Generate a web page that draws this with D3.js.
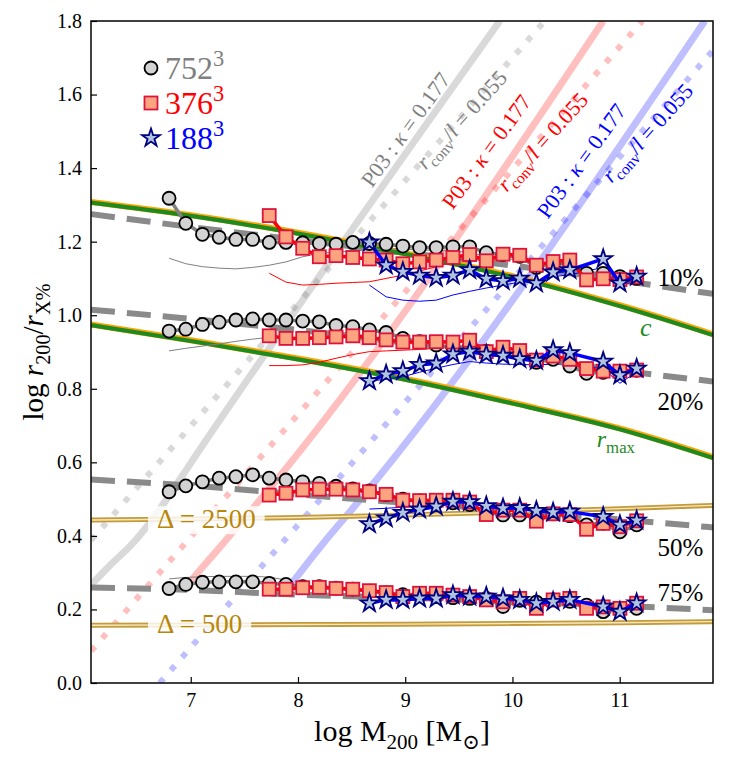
<!DOCTYPE html>
<html>
<head>
<meta charset="utf-8">
<script src="https://cdnjs.cloudflare.com/ajax/libs/d3/7.8.5/d3.min.js"></script>
<style>
  body { margin: 0; background: #fff; }
  svg text { font-family: "Liberation Serif", "DejaVu Serif", serif; }
</style>
</head>
<body>
<div id="chart"></div>
<script>
// log M200 bin centres shared by all three runs
var massBins = [6.798, 6.954, 7.109, 7.265, 7.421, 7.577, 7.732, 7.888, 8.044, 8.199,
                8.355, 8.511, 8.666, 8.822, 8.978, 9.134, 9.289, 9.445, 9.601, 9.756,
                9.912, 10.068, 10.223, 10.379, 10.535, 10.691, 10.846, 11.002, 11.158];

// first bin of each run: 752^3, 376^3, 188^3
var startBin = [0, 6, 12];

// 10% radius
var hi10  = [1.318, 1.250, 1.220, 1.212, 1.206, 1.206, 1.198, 1.198, 1.197, 1.195, 1.193, 1.198, 1.195, 1.193, 1.188,
             1.184, 1.184, 1.186, 1.186, 1.170, 1.165, 1.160, 1.130, 1.140, 1.140, 1.114, 1.114, 1.105, 1.100];
var mid10 = [1.271, 1.213, 1.182, 1.159, 1.162, 1.157, 1.153, 1.150, 1.140, 1.145, 1.150, 1.157, 1.165, 1.148,
             1.166, 1.163, 1.136, 1.146, 1.150, 1.096, 1.099, 1.097, 1.104];
var lo10  = [1.198, 1.136, 1.118, 1.108, 1.102, 1.108, 1.123, 1.099, 1.093, 1.100, 1.087, 1.117, 1.123, null,
             1.153, 1.087, 1.105];
// 20% radius
var hi20  = [0.957, 0.962, 0.975, 0.981, 0.987, 0.990, 0.987, 0.987, 0.984, 0.982, 0.972, 0.969, 0.960, 0.953, 0.937,
             0.928, 0.919, 0.912, 0.915, 0.902, 0.900, 0.895, 0.872, 0.880, 0.862, 0.842, 0.845, 0.843, 0.850];
var mid20 = [0.944, 0.937, 0.937, 0.939, 0.941, 0.944, 0.939, 0.933, 0.927, 0.927, 0.928, 0.927, 0.932, 0.901,
             0.913, 0.904, 0.878, 0.889, 0.880, 0.855, 0.848, 0.848, 0.851];
var lo20  = [0.821, 0.839, 0.848, 0.865, 0.869, 0.894, 0.901, 0.893, 0.890, 0.881, 0.876, 0.905, 0.897, null,
             0.874, 0.837, 0.855];
// 50% radius
var hi50  = [0.520, 0.536, 0.547, 0.557, 0.561, 0.566, 0.557, 0.552, 0.547, 0.543, 0.535, 0.528, 0.522, 0.512, 0.500,
             0.495, 0.490, 0.490, 0.485, 0.465, 0.457, 0.457, 0.450, 0.460, 0.455, 0.430, 0.435, 0.411, 0.430];
var mid50 = [0.511, 0.516, 0.525, 0.527, 0.527, 0.525, 0.520, 0.513, 0.497, 0.496, 0.497, 0.497, 0.492, 0.458,
             0.470, 0.470, 0.440, 0.460, 0.458, 0.418, 0.434, 0.425, 0.441];
var lo50  = [0.432, 0.448, 0.463, 0.472, 0.480, 0.493, 0.492, 0.481, 0.475, 0.476, 0.468, 0.464, 0.466, null,
             0.452, 0.430, 0.442];
// 75% radius
var hi75  = [0.257, 0.268, 0.274, 0.275, 0.275, 0.275, 0.271, 0.268, 0.262, 0.262, 0.258, 0.255, 0.250, 0.245, 0.240,
             0.237, 0.235, 0.232, 0.230, 0.230, 0.208, 0.225, 0.220, 0.226, 0.222, 0.212, 0.194, 0.200, 0.203];
var mid75 = [0.255, 0.255, 0.259, 0.260, 0.257, 0.255, 0.251, 0.246, 0.235, 0.244, 0.244, 0.239, 0.235, 0.226,
             0.221, 0.230, 0.203, 0.226, 0.230, 0.203, 0.207, 0.203, 0.217];
var lo75  = [0.217, 0.226, 0.226, 0.230, 0.230, 0.239, 0.235, 0.235, 0.230, 0.226, 0.217, 0.221, 0.226, null,
             0.208, 0.194, 0.217];

// thin lines (second estimator), same bins
var thinHi10  = [1.155, 1.140, 1.132, 1.128, 1.126, 1.130, 1.136, 1.145, 1.159, 1.168, 1.172, 1.175, 1.178, 1.180, 1.180,
                 1.178, 1.176, 1.175, 1.170, 1.160, 1.155, 1.150, 1.135, 1.130, 1.130, 1.110, 1.110, 1.100, 1.100];
var thinMid10 = [1.114, 1.090, 1.082, 1.084, 1.087, 1.089, 1.091, 1.100, 1.109, 1.120, 1.132, 1.145, 1.160, 1.140,
                 1.160, 1.155, 1.135, 1.140, 1.145, 1.100, 1.100, 1.095, 1.100];
var thinLo10  = [1.082, 1.050, 1.041, 1.038, 1.041, 1.055, 1.065, 1.074, 1.082, 1.090, 1.090, 1.105, 1.110, null,
                 1.130, 1.074, 1.100];
var thinHi20  = [0.903, 0.910, 0.916, 0.922, 0.929, 0.935, 0.940, 0.940, 0.940, 0.940, 0.940, 0.940, 0.935, 0.930, 0.925,
                 0.920, 0.918, 0.915, 0.915, 0.900, 0.900, 0.895, 0.875, 0.880, 0.870, 0.850, 0.845, 0.845, 0.850];
var thinMid20 = [0.863, 0.863, 0.865, 0.872, 0.883, 0.893, 0.901, 0.903, 0.905, 0.907, 0.910, 0.912, 0.915, 0.900,
                 0.900, 0.895, 0.875, 0.880, 0.870, 0.850, 0.845, 0.840, 0.845];
var thinLo20  = [0.821, 0.826, 0.833, 0.845, 0.856, 0.866, 0.874, 0.870, 0.867, 0.866, 0.865, 0.867, 0.869, null,
                 0.855, 0.815, 0.846];
var thinHi50  = [0.535, 0.540, 0.548, 0.555, 0.560, 0.562, 0.560, 0.555, 0.550, 0.545];
var thinLo50  = [0.473, 0.475, 0.478, 0.480, 0.485];
var thinHi75  = [0.283, 0.287, 0.289, 0.290, 0.290, 0.290, 0.288, 0.280];

// model curves on a common mass grid
var modelX   = [6.07, 7, 8, 9, 10, 11, 11.87];
var dash10   = [1.275, 1.240, 1.205, 1.170, 1.135, 1.095, 1.058];
var dash20   = [1.015, 0.990, 0.960, 0.925, 0.890, 0.850, 0.820];
var dash50   = [0.553, 0.537, 0.513, 0.490, 0.470, 0.445, 0.423];
var dash75   = [0.260, 0.253, 0.240, 0.232, 0.222, 0.210, 0.198];
var cLine    = [1.306, 1.270, 1.222, 1.166, 1.104, 1.025, 0.946];
var rmaxLine = [0.973, 0.930, 0.880, 0.825, 0.760, 0.690, 0.612];
var d2500    = [0.443, 0.446, 0.450, 0.457, 0.465, 0.474, 0.483];
var d500     = [0.157, 0.158, 0.159, 0.160, 0.162, 0.164, 0.167];

// Power et al. (2003) convergence radius, one curve per run
var p03GrayX = [6.07, 6.25, 6.434, 6.621, 6.8, 7.0, 8.111, 9.882];
var p03GrayY = [0.266, 0.321, 0.372, 0.437, 0.51, 0.598, 1.069, 1.8];
var p03RedX  = [6.96, 7.087, 7.304, 7.459, 7.646, 10.846];
var p03RedY  = [0.262, 0.307, 0.38, 0.434, 0.498, 1.8];
var p03BlueX = [7.895, 8.236, 8.578, 11.793];
var p03BlueY = [0.253, 0.38, 0.498, 1.8];
// r_conv / l = 0.055
var convGrayX = [6.07, 10.30],  convGrayY = [0.388, 1.8];
var convRedX  = [6.07, 11.21],  convRedY  = [0.087, 1.8];
var convBlueX = [6.71, 11.87],  convBlueY = [0.0, 1.72];

var xTicks = [7, 8, 9, 10, 11];
var yTicks = [0, 0.2, 0.4, 0.6, 0.8, 1.0, 1.2, 1.4, 1.6, 1.8];

var runColors = ["#808080", "#ff0000", "#0000ff"];

//Margin for our vis
var margin = {top: 21, right: 16, bottom: 82, left: 91},
    width = 729 - margin.left - margin.right,
    height = 765 - margin.top - margin.bottom;

var x = d3.scaleLinear().domain([6.07, 11.87]).range([0, width]);
var y = d3.scaleLinear().domain([0, 1.8]).range([height, 0]);

var svg = d3.select("#chart").append("svg")
    .attr("width", 729).attr("height", 765);

var g = svg.append("g").attr("transform", "translate(" + margin.left + "," + margin.top + ")");

g.append("clipPath").attr("id", "clip")
  .append("rect").attr("width", width).attr("height", height);

var plot = g.append("g").attr("clip-path", "url(#clip)");

var line = d3.line().x((d) => x(d[0])).y((d) => y(d[1]));
var smooth = d3.line().x((d) => x(d[0])).y((d) => y(d[1])).curve(d3.curveMonotoneX);

function zip(xs, ys){ return xs.map((v, i) => [v, ys[i]]); }

// points of one run: skip empty bins
function runPoints(vals, start){
  var pts = [];
  vals.forEach(function(v, i){ if (v !== null) pts.push([massBins[start + i], v]); });
  return pts;
}

// small helper for tex-like labels: piece = [text, "i" italic / "s" sub / "p" super]
function richText(t, pieces, size){
  var shift = 0;
  pieces.forEach(function(p){
    var st = p[1] || "";
    var ts = t.append("tspan").text(p[0]);
    var want = 0;
    if (st.indexOf("s") >= 0) want = 0.25 * size;
    if (st.indexOf("p") >= 0) want = -0.42 * size;
    if (want !== shift) ts.attr("dy", want - shift);
    shift = want;
    if (want !== 0) ts.style("font-size", (size * 0.7) + "px");
    if (st.indexOf("i") >= 0) ts.style("font-style", "italic");
  });
}

// --- P03 and r_conv lines (faint) ---
var faint = [[p03GrayX, p03GrayY, convGrayX, convGrayY, 0.3],
             [p03RedX, p03RedY, convRedX, convRedY, 0.25],
             [p03BlueX, p03BlueY, convBlueX, convBlueY, 0.25]];
faint.forEach(function(f, k){
  plot.append("path").datum(zip(f[0], f[1])).attr("d", smooth)
      .attr("fill", "none").attr("stroke", runColors[k]).attr("stroke-opacity", f[4])
      .attr("stroke-width", 7);
  plot.append("path").datum(zip(f[2], f[3])).attr("d", line)
      .attr("fill", "none").attr("stroke", runColors[k]).attr("stroke-opacity", f[4])
      .attr("stroke-width", 6).attr("stroke-dasharray", "6,11");
});

// --- model lines for each percentage ---
[dash10, dash20, dash50, dash75].forEach(function(d){
  plot.append("path").datum(zip(modelX, d)).attr("d", smooth)
      .attr("fill", "none").attr("stroke", "#8a8a8a").attr("stroke-width", 6)
      .attr("stroke-dasharray", "24,12");
});

// --- overdensity radii (gold double lines) ---
[d2500, d500].forEach(function(d){
  plot.append("path").datum(zip(modelX, d)).attr("d", smooth)
      .attr("fill", "none").attr("stroke", "#c39b3a").attr("stroke-width", 5);
  plot.append("path").datum(zip(modelX, d)).attr("d", smooth)
      .attr("fill", "none").attr("stroke", "#f6e8c0").attr("stroke-width", 1.4);
});

// --- scale radius and r_max (green with orange edge) ---
[cLine, rmaxLine].forEach(function(d){
  plot.append("path").datum(zip(modelX, d)).attr("d", smooth)
      .attr("transform", "translate(0,-0.8)")
      .attr("fill", "none").attr("stroke", "orange").attr("stroke-width", 6);
  plot.append("path").datum(zip(modelX, d)).attr("d", smooth)
      .attr("fill", "none").attr("stroke", "#1f8a1f").attr("stroke-width", 4.2);
});

// Delta labels with a pale box
var deltaLabels = [["2500", 6.686, 0.421], ["500", 6.686, 0.136]];
deltaLabels.forEach(function(d){
  var lg = plot.append("g");
  var box = lg.append("rect");
  var t = lg.append("text").attr("x", x(d[1])).attr("y", y(d[2]))
      .style("font-size", "27px").attr("fill", "#b8860b")
      .text("\u0394 = " + d[0]);
  var bb = t.node().getBBox();
  box.attr("x", bb.x - 9).attr("y", bb.y + 2).attr("width", bb.width + 18).attr("height", bb.height - 2)
     .attr("fill", "#fff").attr("fill-opacity", 0.82);
});

// --- thin lines ---
var thin = [[thinHi10, 0], [thinMid10, 1], [thinLo10, 2],
            [thinHi20, 0], [thinMid20, 1], [thinLo20, 2],
            [thinHi50, 0], [thinLo50, 2], [thinHi75, 0]];
thin.forEach(function(t){
  plot.append("path").datum(runPoints(t[0], startBin[t[1]])).attr("d", line)
      .attr("fill", "none").attr("stroke", runColors[t[1]]).attr("stroke-width", 1);
});

// --- measured points ---
var star = d3.symbol().type(d3.symbolStar).size(100);
var markerStyle = [
  {fill: "#d3d3d3", stroke: "#000"},
  {fill: "#fca480", stroke: "#dc143c"},
  {fill: "#b0c4de", stroke: "#000080"}
];

function drawMarker(sel, k){
  if (k === 0) {
    sel.append("circle").attr("r", 6.5);
  } else if (k === 1) {
    sel.append("rect").attr("x", -6.5).attr("y", -6.5).attr("width", 13).attr("height", 13);
  } else {
    sel.append("path").attr("d", star);
  }
  sel.selectAll("circle,rect,path")
     .attr("fill", markerStyle[k].fill).attr("stroke", markerStyle[k].stroke).attr("stroke-width", 1.8);
}

var runs = [[hi10, hi20, hi50, hi75], [mid10, mid20, mid50, mid75], [lo10, lo20, lo50, lo75]];
runs.forEach(function(sets, k){
  sets.forEach(function(vals){
    var pts = runPoints(vals, startBin[k]);
    plot.append("path").datum(pts).attr("d", line)
        .attr("fill", "none").attr("stroke", runColors[k]).attr("stroke-width", 3.5)
        .attr("stroke-linejoin", "round");
    plot.selectAll(null).data(pts).enter().append("g")
        .attr("transform", (d) => "translate(" + x(d[0]) + "," + y(d[1]) + ")")
        .each(function(){ drawMarker(d3.select(this), k); });
  });
});

// --- rotated labels along the convergence lines ---
var rotLabels = [
  {x: 9.006, y: 1.504, a: -54, k: 0, p03: true},
  {x: 9.528, y: 1.531, a: -48, k: 0, p03: false},
  {x: 9.761, y: 1.444, a: -54, k: 1, p03: true},
  {x: 10.283, y: 1.471, a: -48, k: 1, p03: false},
  {x: 10.646, y: 1.419, a: -54, k: 2, p03: true},
  {x: 11.261, y: 1.495, a: -48, k: 2, p03: false}
];
rotLabels.forEach(function(d){
  var t = g.append("text")
      .attr("transform", "translate(" + x(d.x) + "," + y(d.y) + ") rotate(" + d.a + ")")
      .attr("text-anchor", "middle").attr("y", 7)
      .style("font-size", "22px").attr("fill", runColors[d.k]);
  if (d.p03) richText(t, [["P03 :  "], ["\u03ba", "i"], [" = 0.177"]], 22);
  else richText(t, [["r", "i"], ["conv", "s"], ["/"], ["l", "i"], [" = 0.055"]], 22);
});

// percentage labels
var pctLabels = [["10%", 1.079], ["20%", 0.742], ["50%", 0.345], ["75%", 0.223]];
pctLabels.forEach(function(d){
  g.append("text").attr("x", x(11.78)).attr("y", y(d[1]))
   .attr("text-anchor", "end").style("font-size", "25px").text(d[0]);
});

var cl = g.append("text").attr("x", x(11.19)).attr("y", y(0.943))
   .style("font-size", "26px").attr("fill", "#1f8a1f");
richText(cl, [["c", "i"]], 26);
var rl = g.append("text").attr("x", x(10.786)).attr("y", y(0.642))
   .style("font-size", "24px").attr("fill", "#1f8a1f");
richText(rl, [["r", "i"], ["max", "s"]], 24);

// --- legend ---
var legendRows = [["752", 68], ["376", 103], ["188", 138]];
legendRows.forEach(function(d, k){
  var mk = svg.append("g").attr("transform", "translate(151," + d[1] + ")");
  drawMarker(mk, k);
  var t = svg.append("text").attr("x", 165).attr("y", d[1] + 11)
      .style("font-size", "32px").attr("fill", runColors[k]);
  richText(t, [[d[0]], ["3", "p"]], 32);
});

// --- axes ---
var xAxis = g.append("g").attr("transform", "translate(0," + height + ")")
    .call(d3.axisBottom(x).tickValues(xTicks).tickSize(-6).tickPadding(10).tickFormat(d3.format("d")));
var yAxis = g.append("g")
    .call(d3.axisLeft(y).tickValues(yTicks).tickSize(-6).tickPadding(9).tickFormat(d3.format(".1f")));
[xAxis, yAxis].forEach(function(a){
  a.select(".domain").remove();
  a.selectAll(".tick line").attr("stroke", "#000").attr("stroke-width", 1.2);
  a.selectAll(".tick text").style("font-family", "Liberation Serif, serif").style("font-size", "20px").attr("fill", "#000");
});

g.append("rect").attr("width", width).attr("height", height)
  .attr("fill", "none").attr("stroke", "#000").attr("stroke-width", 1.5);

var xt = svg.append("text").attr("x", margin.left + width / 2).attr("y", 741)
    .attr("text-anchor", "middle").style("font-size", "30px");
richText(xt, [["log  M"], ["200", "s"], [" [M"], ["\u2299", "s"], ["]"]], 30);

var yt = svg.append("text").attr("transform", "translate(43," + (margin.top + height / 2) + ") rotate(-90)")
    .attr("text-anchor", "middle").style("font-size", "29px");
richText(yt, [["log "], ["r", "i"], ["200", "s"], ["/"], ["r", "i"], ["X%", "s"]], 29);
</script>
</body>
</html>
